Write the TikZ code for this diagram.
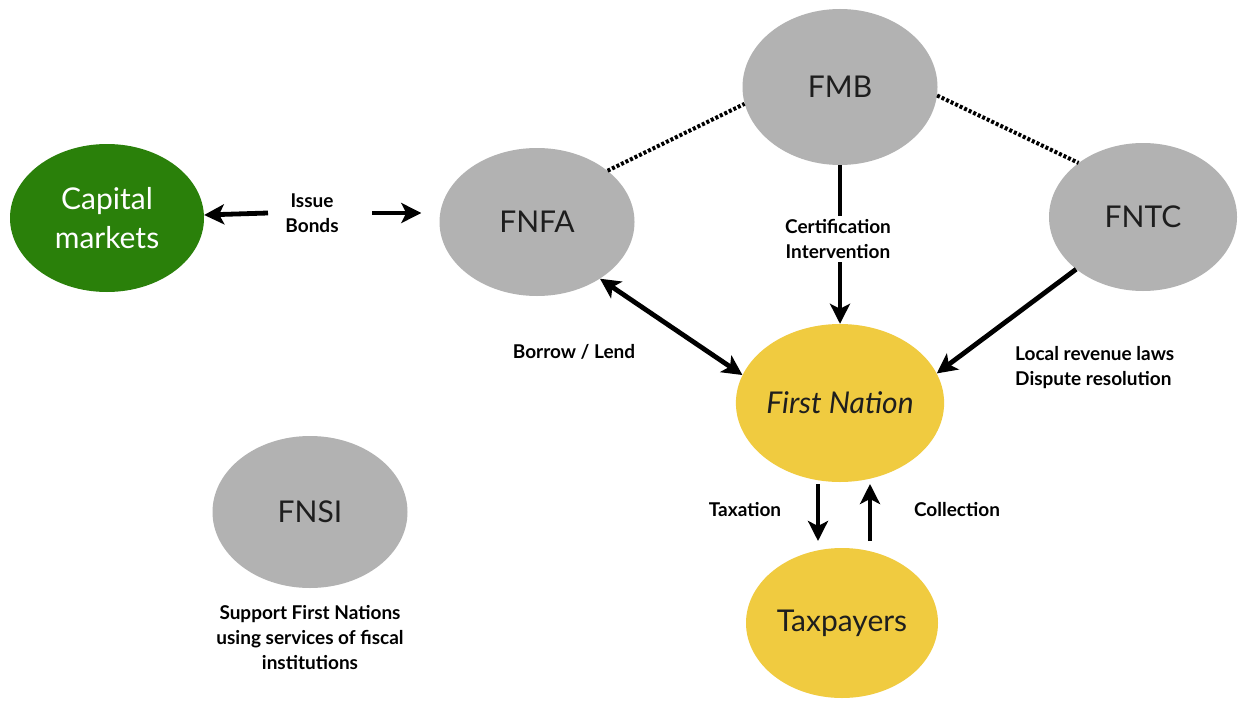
\documentclass[tikz,border=0pt]{standalone}
\usepackage{fontspec}
\setmainfont{Lato}
\usetikzlibrary{shapes.geometric,arrows.meta}
\definecolor{fgrey}{RGB}{178,178,178}
\definecolor{fgreen}{RGB}{42,128,10}
\definecolor{fyellow}{RGB}{240,203,64}
\definecolor{ftext}{RGB}{30,30,30}
\begin{document}
\begin{tikzpicture}[x=1pt,y=-1pt,
  blob/.style={ellipse, inner sep=0pt, minimum width=195pt, minimum height=148pt,
    font=\fontsize{30}{33}\selectfont, text=ftext, align=center},
  greyblob/.style={blob, fill=fgrey},
  greenblob/.style={blob, fill=fgreen, text=white},
  yellowblob/.style={blob, fill=fyellow},
  lbl/.style={font=\bfseries\fontsize{19}{25}\selectfont, align=center, text=black, inner sep=2pt},
  tip/.tip={Stealth[length=20pt,width=20pt,inset=5pt]},
  arr/.style={line width=4.8pt, -tip},
  darr/.style={line width=4.8pt, tip-tip},
  dots/.style={line width=4pt, dash pattern=on 3pt off 2pt}]
\useasboundingbox[fill=white] (0,0) rectangle (1244,701);

% nodes
\node[greenblob, minimum width=194pt, minimum height=148pt] (cap) at (107,218) {Capital\\[6pt]markets};
\node[greyblob] (fnfa) at (537,222) {FNFA};
\node[greyblob, minimum height=156pt] (fmb) at (840,87) {FMB};
\node[greyblob, minimum width=188pt] (fntc) at (1143,217) {FNTC};
\node[yellowblob, minimum width=200pt, minimum height=158pt] (fn) at (840,403) {\itshape First Nation};
\node[yellowblob, minimum width=192pt, minimum height=150pt] (tax) at (842,623) {Taxpayers};
\node[greyblob, minimum height=152pt] (fnsi) at (310,512) {FNSI};

% dotted links
\draw[dots] (fnfa.36) -- (fmb.190);
\draw[dots] (fmb.-5) -- (fntc.140);

% Issue bonds
\node[lbl] (issue) at (312,213) {Issue\\Bonds};
\coordinate (ibl) at (268,213);
\coordinate (ibr) at (372,213);
\draw[arr] (ibl) -- (cap);
\draw[arr, shorten >=18pt] (ibr) -- (ibr -| fnfa.west);

% FMB -> First Nation
\draw[arr] (fmb) -- (fn);
\node[lbl, fill=white, inner sep=3pt] (cert) at (838,239) {Certification\\Intervention};

% Borrow / Lend
\draw[darr] (fnfa.-42) -- (fn.164);
\node[lbl] (bl) at (574,352) {Borrow / Lend};

% FNTC -> First Nation
\draw[arr] (fntc.-142) -- (fn.17);
\node[lbl, align=left, anchor=west] (local) at (1013,368) {Local revenue laws\\Dispute resolution};

% Taxation / Collection
\coordinate (t1) at (818,484);
\coordinate (t2) at (818,541);
\coordinate (c1) at (870,541);
\coordinate (c2) at (870,484);
\draw[arr] (t1) -- (t2);
\draw[arr] (c1) -- (c2);
\node[lbl] (taxation) at (745,510) {Taxation};
\node[lbl] (collection) at (957,510) {Collection};

% FNSI caption
\node[lbl] (sup) at (310,638) {Support First Nations\\using services of fiscal\\institutions};
\end{tikzpicture}
\end{document}
